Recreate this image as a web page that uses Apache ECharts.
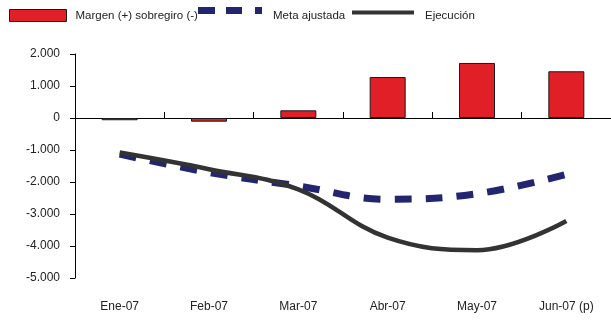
<!DOCTYPE html>
<html>
<head>
<meta charset="utf-8">
<script src="https://cdn.jsdelivr.net/npm/echarts@6/dist/echarts.min.js"></script>
<style>
  html, body { margin: 0; padding: 0; background: #fff; }
  #chart { width: 611px; height: 320px; }
</style>
</head>
<body>
<div id="chart"></div>
<script>
// Monthly fiscal target vs execution, 2007
const categories = ['Ene-07', 'Feb-07', 'Mar-07', 'Abr-07', 'May-07', 'Jun-07 (p)'];
const margen = [-70, -115, 240, 1280, 1720, 1460];
const meta = [-1130, -1700, -2125, -2540, -2365, -1760];
const ejecucion = [-1080, -1600, -2230, -3740, -4130, -3220];
const yTicks = { min: -5000, max: 2000, interval: 1000 };

const FONT = 'Liberation Sans, Arial, sans-serif';
const TXT = '#222';
const RED = '#e01f27';
const NAVY = '#232570';
const DARK = '#333333';

function fmtThousands(v) {
  const s = Math.abs(v).toString().replace(/\B(?=(\d{3})+(?!\d))/g, '.');
  return (v < 0 ? '-' : '') + s;
}

const chart = echarts.init(document.getElementById('chart'), null, { renderer: 'canvas' });

function legendText(padLeft) {
  return { fontFamily: FONT, fontSize: 11.5, color: TXT, padding: [0, 0, 0, padLeft] };
}

// Legend icons for the lines sit a little above the text line; the trailing
// zero-length segment extends each icon box downwards so the label centres lower.
const dashIcon = 'path://M0,0H17V7H0Z M28,0H44V7H28Z M57,0H64V7H57Z M0,17L0,17';
const solidIcon = 'path://M0,0H62V4H0Z M0,11L0,11';

chart.setOption({
  animation: false,
  backgroundColor: '#fff',
  legend: [
    {
      data: [{ name: 'Margen (+) sobregiro (-)', icon: 'rect' }],
      left: 9, top: 9, padding: 0, itemWidth: 57, itemHeight: 12, itemGap: 0,
      itemStyle: { borderColor: '#1a1a1a', borderWidth: 1 },
      textStyle: legendText(4)
    },
    {
      data: [{ name: 'Meta ajustada', icon: dashIcon }],
      left: 198, top: 7, padding: 0, itemWidth: 64, itemHeight: 17, itemGap: 0,
      itemStyle: { color: NAVY, borderWidth: 0 },
      textStyle: legendText(6)
    },
    {
      data: [{ name: 'Ejecución', icon: solidIcon }],
      left: 352, top: 10, padding: 0, itemWidth: 62, itemHeight: 11, itemGap: 0,
      itemStyle: { color: DARK, borderWidth: 0 },
      textStyle: legendText(6)
    }
  ],
  grid: { left: 75, width: 540, top: 54, height: 224, containLabel: false },
  xAxis: [
    {
      type: 'category',
      data: categories,
      position: 'bottom',
      axisLine: { onZero: true, lineStyle: { color: '#000', width: 1 } },
      axisTick: { show: true, inside: true, length: 6, lineStyle: { color: '#000' } },
      axisLabel: { show: false },
      splitLine: { show: false }
    },
    {
      type: 'category',
      data: categories,
      position: 'bottom',
      axisLine: { show: false, onZero: false },
      axisTick: { show: false },
      axisLabel: { show: true, margin: 23, fontFamily: FONT, fontSize: 12, color: TXT },
      splitLine: { show: false }
    }
  ],
  yAxis: {
    type: 'value',
    min: yTicks.min, max: yTicks.max, interval: yTicks.interval,
    axisLine: { show: true, lineStyle: { color: '#000', width: 1 } },
    axisTick: { show: true, length: 5, lineStyle: { color: '#000' } },
    axisLabel: { margin: 15, fontFamily: FONT, fontSize: 12, color: TXT, formatter: fmtThousands },
    splitLine: { show: false }
  },
  series: [
    {
      name: 'Margen (+) sobregiro (-)',
      type: 'bar',
      data: margen,
      barWidth: 36,
      itemStyle: { color: RED, borderColor: '#1a1a1a', borderWidth: 1 },
      z: 1
    },
    {
      name: 'Meta ajustada',
      type: 'line',
      data: meta,
      smooth: 0.4,
      symbol: 'none',
      lineStyle: { color: NAVY, width: 7, type: [17, 14], cap: 'butt' },
      itemStyle: { color: NAVY },
      z: 3
    },
    {
      name: 'Ejecución',
      type: 'line',
      data: ejecucion,
      smooth: 0.4,
      symbol: 'none',
      lineStyle: { color: DARK, width: 4.5 },
      itemStyle: { color: DARK },
      z: 4
    }
  ]
});
</script>
</body>
</html>
